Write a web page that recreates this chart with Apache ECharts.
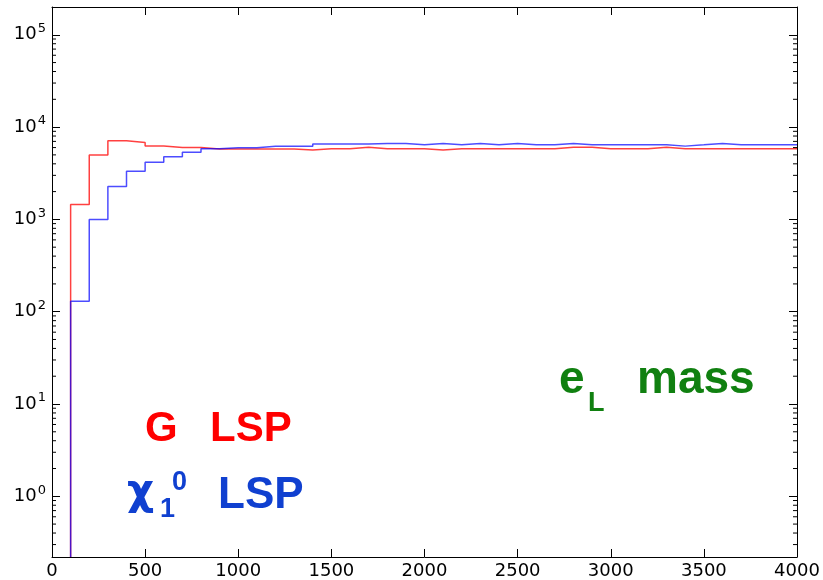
<!DOCTYPE html>
<html>
<head>
<meta charset="utf-8">
<script src="https://cdn.jsdelivr.net/npm/echarts@6/dist/echarts.min.js"></script>
<style>
  html, body { margin: 0; padding: 0; background: #fff; }
  #main { width: 823px; height: 580px; }
</style>
</head>
<body>
<div id="main"></div>
<script>
// histogram bin edges (GeV)
const binEdges = [0, 100, 200, 300, 400, 500, 600, 700, 800, 900, 1000,
  1100, 1200, 1300, 1400, 1500, 1600, 1700, 1800, 1900, 2000,
  2100, 2200, 2300, 2400, 2500, 2600, 2700, 2800, 2900, 3000,
  3100, 3200, 3300, 3400, 3500, 3600, 3700, 3800, 3900, 4000];

// counts per bin, gravitino LSP (red)
const gravitinoCounts = [0, 1450, 5000, 7100, 6800, 6250, 6000, 6000, 5800, 5800,
  5800, 5800, 5800, 5630, 5820, 5820, 6030, 5820, 5820, 5820,
  5630, 5820, 5820, 5820, 5820, 5820, 5820, 6030, 6030, 5820,
  5820, 5820, 6030, 5820, 5820, 5820, 5820, 5820, 5820, 5820];

// counts per bin, neutralino LSP (blue)
const neutralinoCounts = [0, 130, 1000, 2270, 3330, 4170, 4760, 5350, 5820, 5970,
  5970, 6200, 6200, 6200, 6550, 6550, 6550, 6660, 6660, 6430,
  6660, 6430, 6660, 6430, 6660, 6430, 6430, 6660, 6430, 6430,
  6430, 6430, 6430, 6220, 6430, 6660, 6430, 6430, 6430, 6430];

const yMin = 0.22;
const yMax = 2e5;
const minorTickValues = [];
for (let e = -1; e <= 5; e++) {
  for (let m = 2; m <= 9; m++) {
    const v = m * Math.pow(10, e);
    if (v > yMin && v < yMax) minorTickValues.push(v);
  }
}

// step outline like matplotlib histtype='step'
function stepLine(counts) {
  const pts = [];
  let started = false;
  for (let i = 0; i < counts.length; i++) {
    const v = counts[i];
    if (!started) {
      if (v <= 0) continue;
      pts.push([binEdges[i], yMin]);
      started = true;
    }
    pts.push([binEdges[i], v]);
    pts.push([binEdges[i + 1], v]);
  }
  return pts;
}

const chart = echarts.init(document.getElementById('main'));

const tickFont = 'DejaVu Sans';
const textFont = '"Liberation Sans", Arial, sans-serif';
const axisLine = { show: true, onZero: false, lineStyle: { color: '#000', width: 1 } };
const majorTick = { show: true, inside: true, length: 8, lineStyle: { color: '#000' } };

function logLabel(v) {
  const e = Math.log10(v);
  const r = Math.round(e);
  if (Math.abs(e - r) > 1e-6) return '';
  return '{b|10}{sup|' + r + '}';
}

const option = {
  animation: false,
  backgroundColor: '#fff',
  grid: { left: 52, right: 26, top: 7, bottom: 23, containLabel: false },
  xAxis: [
    {
      type: 'value', min: 0, max: 4000, interval: 500, position: 'bottom',
      axisLine, axisTick: majorTick,
      axisLabel: { color: '#000', fontFamily: tickFont, fontSize: 18, margin: 5, formatter: v => String(v) },
      splitLine: { show: false }
    },
    {
      type: 'value', min: 0, max: 4000, interval: 500, position: 'top',
      axisLine, axisTick: majorTick,
      axisLabel: { show: false },
      splitLine: { show: false }
    }
  ],
  yAxis: [
    {
      type: 'log', logBase: 10, min: yMin, max: yMax, position: 'left',
      axisLine, axisTick: majorTick,
      axisLabel: {
        color: '#000', margin: 6, formatter: logLabel,
        rich: {
          b: { fontFamily: tickFont, fontSize: 18, color: '#000' },
          sup: { fontFamily: tickFont, fontSize: 13, color: '#000', padding: [0, 0, 12, 1] }
        }
      },
      splitLine: { show: false }
    },
    {
      type: 'log', logBase: 10, min: yMin, max: yMax, position: 'right',
      axisLine, axisTick: majorTick,
      axisLabel: { show: false },
      splitLine: { show: false }
    }
  ],
  series: [
    {
      type: 'line', name: 'G LSP', xAxisIndex: 0, yAxisIndex: 0,
      data: stepLine(gravitinoCounts), showSymbol: false, symbol: 'none',
      lineStyle: { color: '#ff0000', width: 1.5, opacity: 0.75 }, z: 3
    },
    {
      type: 'line', name: 'chi LSP', xAxisIndex: 0, yAxisIndex: 0,
      data: stepLine(neutralinoCounts), showSymbol: false, symbol: 'none',
      lineStyle: { color: '#0000ff', width: 1.5, opacity: 0.7 }, z: 4
    },
    {
      // log minor ticks on left and right spines
      type: 'custom', xAxisIndex: 0, yAxisIndex: 0, silent: true, z: 5,
      data: minorTickValues.map(v => [0, v]),
      renderItem: function (params, api) {
        const l = api.coord([0, api.value(1)]);
        const r = api.coord([4000, api.value(1)]);
        return {
          type: 'group',
          children: [
            { type: 'line', shape: { x1: l[0], y1: l[1], x2: l[0] + 4, y2: l[1] }, style: { stroke: '#000', lineWidth: 1 } },
            { type: 'line', shape: { x1: r[0] - 4, y1: r[1], x2: r[0], y2: r[1] }, style: { stroke: '#000', lineWidth: 1 } }
          ]
        };
      }
    }
  ],
  graphic: [
    { type: 'text', left: 145, top: 408, style: { text: 'G', fill: '#ff0000', font: 'bold 42px ' + textFont } },
    { type: 'text', left: 210, top: 408, style: { text: 'LSP', fill: '#ff0000', font: 'bold 42px ' + textFont } },
    { type: 'text', left: 127, top: 472, style: { text: 'χ', fill: '#1040d0', font: 'bold 42px "DejaVu Sans", sans-serif' } },
    { type: 'text', left: 160, top: 496, style: { text: '1', fill: '#1040d0', font: 'bold 27px ' + textFont } },
    { type: 'text', left: 172, top: 469, style: { text: '0', fill: '#1040d0', font: 'bold 27px ' + textFont } },
    { type: 'text', left: 218, top: 474, style: { text: 'LSP', fill: '#1040d0', font: 'bold 44px ' + textFont } },
    { type: 'text', left: 559, top: 357, style: { text: 'e', fill: '#108010', font: 'bold 46px ' + textFont } },
    { type: 'text', left: 588, top: 390, style: { text: 'L', fill: '#108010', font: 'bold 27px ' + textFont } },
    { type: 'text', left: 637, top: 357, style: { text: 'mass', fill: '#108010', font: 'bold 46px ' + textFont } }
  ]
};

chart.setOption(option);
</script>
</body>
</html>
